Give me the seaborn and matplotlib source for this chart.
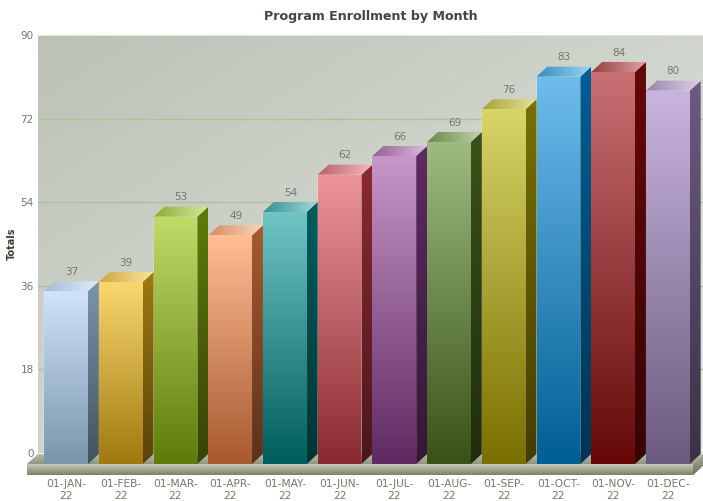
import numpy as np
import pandas as pd
import matplotlib
matplotlib.use('Agg')
import matplotlib.pyplot as plt
import seaborn as sns
from matplotlib.colors import to_rgb
from matplotlib.patches import Polygon

months = ['01-JAN-\n22', '01-FEB-\n22', '01-MAR-\n22', '01-APR-\n22', '01-MAY-\n22', '01-JUN-\n22',
          '01-JUL-\n22', '01-AUG-\n22', '01-SEP-\n22', '01-OCT-\n22', '01-NOV-\n22', '01-DEC-\n22']
totals = [37, 39, 53, 49, 54, 62, 66, 69, 76, 83, 84, 80]
y_ticks = [0, 18, 36, 54, 72, 90]

light = ['#cfe3fa', '#fad66f', '#bfdc68', '#ffbd94', '#70c4c4', '#ee9599',
         '#c795c8', '#9dbb80', '#d8d468', '#6ebcec', '#c87074', '#c8b4dc']
dark = ['#7a95ac', '#a07a10', '#5e7c08', '#a85a30', '#005e5e', '#8a2a30',
        '#5f2a62', '#3a5218', '#7a7000', '#005f95', '#660808', '#6c5a80']

W, H = 703, 501
text_col = '#77786a'

sns.set_style('white')
fig = plt.figure(figsize=(W / 100, H / 100), dpi=100)

# back wall axes holds the y scale, the front axes holds the bars
back = fig.add_axes([38 / W, (H - 453) / H, 665 / W, 418 / H])
front = fig.add_axes([27 / W, (H - 464) / H, 666 / W, 420 / H])
front.patch.set_alpha(0)


def mix(c1, c2, t):
    return tuple(np.array(to_rgb(c1)) * (1 - t) + np.array(to_rgb(c2)) * t)


def shade(ax, pts, c1, c2, angle='v', z=2):
    # gradient image cut to a polygon. v: c1 on top, h: c1 on left, d: diagonal
    pts = np.array(pts)
    xs = np.linspace(0, 1, 80)
    gx, gy = np.meshgrid(xs, xs)
    t = {'v': gy, 'h': gx, 'd': (gx + gy) / 2}[angle]
    rgb = np.array(to_rgb(c1))[None, None, :] * (1 - t[..., None]) + np.array(to_rgb(c2))[None, None, :] * t[..., None]
    im = ax.imshow(rgb, extent=(pts[:, 0].min(), pts[:, 0].max(), pts[:, 1].min(), pts[:, 1].max()),
                   origin='upper', aspect='auto', zorder=z, interpolation='bilinear')
    im.set_clip_path(Polygon(pts, transform=ax.transData))
    im.set_clip_box(fig.bbox)
    return im


# wall
shade(back, [(0, 0), (1, 0), (1, 1), (0, 1)], '#bcc2b6', '#e6e9e4', 'd', 0)
back.images[0].set_transform(back.transAxes)
back.images[0].set_clip_path(None)
back.images[0].set_clip_box(back.bbox)
back.set_xlim(0, 1)
back.set_ylim(0, 90)
back.set_yticks(y_ticks)
back.set_xticks([])
back.grid(True, axis='y', color='#b2c098', lw=1)
back.tick_params(axis='y', length=0, pad=3, labelsize=7.5, labelcolor=text_col)
for s in back.spines.values():
    s.set_visible(False)
back.spines['top'].set_visible(True)
back.spines['top'].set_color('#e4e6e0')
back.set_ylabel('Totals', fontsize=7, fontweight='bold', color='#3a3f32', labelpad=3)
back.set_title('Program Enrollment by Month', fontsize=9.1, fontweight='bold', color='#3f4a3c', pad=11)

# bars
df = pd.DataFrame({'month': months, 'total': totals})
sns.barplot(data=df, x='month', y='total', hue='month', palette=dark, legend=False,
            width=0.8, saturation=1, ax=front)

x0, x1 = -0.713, 11.46
dx, dy = 0.2, 2.15
slab = 2.4

# floor and slab
shade(front, [(x0, 0), (x1, 0), (x1 + dx, dy), (x0 + dx, dy)], '#bcc2ae', '#8f957f', 'v', 1)
shade(front, [(x0, 0), (x1, 0), (x1, -slab), (x0, -slab)], '#cdd2c0', '#7c8268', 'v', 1)
shade(front, [(x1, 0), (x1 + dx, dy), (x1 + dx, dy - slab), (x1, -slab)], '#a9ae98', '#6e745c', 'v', 1)

for i, bar in enumerate(front.patches[:12]):
    l, r = bar.get_x(), bar.get_x() + bar.get_width()
    v = bar.get_height()
    shade(front, [(l, 0), (r, 0), (r, v), (l, v)], light[i], dark[i], 'v', 3)
    shade(front, [(r, 0), (r + dx, dy), (r + dx, v + dy), (r, v)], dark[i], mix(dark[i], '#000000', 0.45), 'v', 3)
    shade(front, [(l, v), (r, v), (r + dx, v + dy), (l + dx, v + dy)],
          mix(light[i], dark[i], 0.5), mix(light[i], '#ffffff', 0.35), 'h', 3)
    front.text(l + bar.get_width() / 2 + dx / 2, v + dy + 0.9, str(int(v)), ha='center', va='bottom',
               fontsize=7.5, color=text_col, zorder=4)

front.set_xlim(x0, x1)
front.set_ylim(0, 90)
front.set_yticks([])
front.set_xlabel('')
front.set_ylabel('')
front.tick_params(axis='x', length=0, pad=11, labelsize=7.7, labelcolor=text_col)
for lab in front.get_xticklabels():
    lab.set_linespacing(1.25)
for s in front.spines.values():
    s.set_visible(False)

fig.savefig('out.png', dpi=100)
